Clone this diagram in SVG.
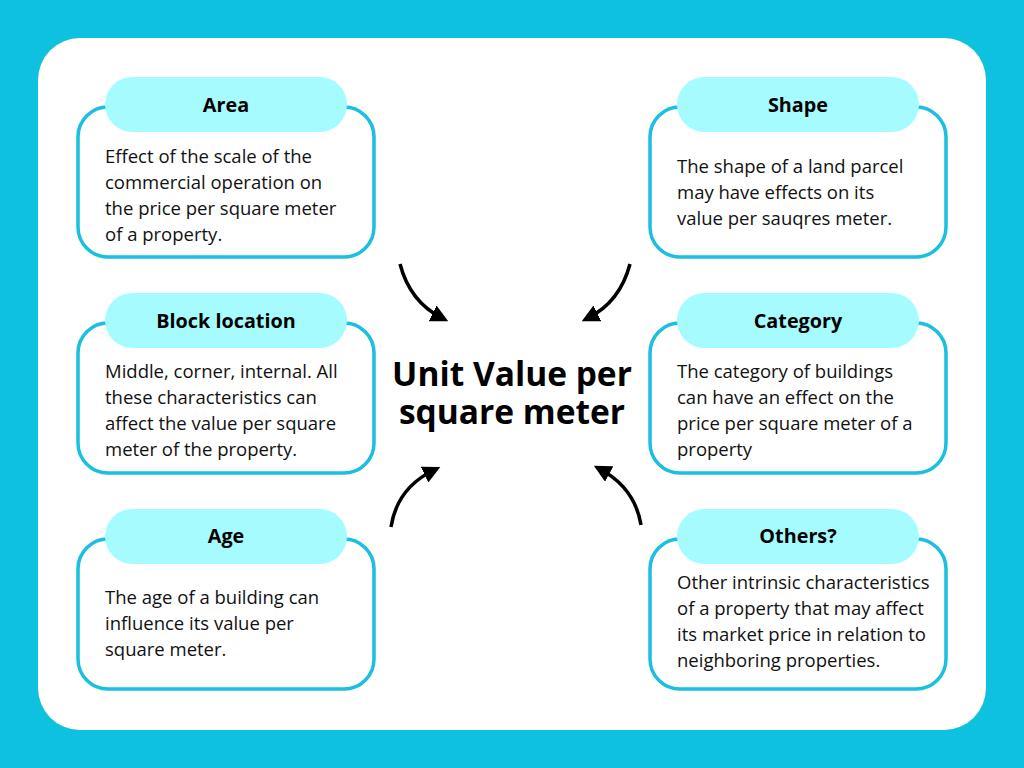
<svg xmlns="http://www.w3.org/2000/svg" width="1024" height="768" viewBox="0 0 1024 768">
<defs>
<style>
.box{fill:#fff;stroke:#1BBFE0;stroke-width:3.5}
.pill{fill:#A6FBFF}
.h{font-family:"Open Sans","Noto Sans",sans-serif;font-weight:bold;font-size:19.8px;fill:#000;text-anchor:middle}
.t{font-family:"Open Sans","Noto Sans",sans-serif;font-size:18.5px;fill:#111}
.c{font-family:"Open Sans","Noto Sans",sans-serif;font-weight:bold;font-size:33.5px;fill:#000;text-anchor:middle}
.arr{fill:none;stroke:#000;stroke-width:3.5;marker-end:url(#ah)}
</style>
<marker id="ah" viewBox="0 0 10 10" refX="6" refY="5" markerWidth="5" markerHeight="5" orient="auto" markerUnits="strokeWidth">
<path d="M0,0 L10,5 L0,10 z" fill="#000"/>
</marker>
</defs>
<rect width="1024" height="768" fill="#0FC1E1"/>
<rect x="38" y="38" width="948" height="692" rx="42" fill="#fff"/>

<g id="area">
<rect class="box" x="78" y="107" width="296" height="150" rx="30"/>
<rect class="pill" x="105" y="77" width="242" height="55" rx="27.5"/>
<text class="h" x="226" y="112">Area</text>
<text class="t" x="105" y="163">Effect of the scale of the</text>
<text class="t" x="105" y="189">commercial operation on</text>
<text class="t" x="105" y="215">the price per square meter</text>
<text class="t" x="105" y="241">of a property.</text>
</g>

<g id="block-location">
<rect class="box" x="78" y="323" width="296" height="150" rx="30"/>
<rect class="pill" x="105" y="293" width="242" height="55" rx="27.5"/>
<text class="h" x="226" y="328">Block location</text>
<text class="t" x="105" y="378">Middle, corner, internal. All</text>
<text class="t" x="105" y="404">these characteristics can</text>
<text class="t" x="105" y="430">affect the value per square</text>
<text class="t" x="105" y="456">meter of the property.</text>
</g>

<g id="age">
<rect class="box" x="78" y="539" width="296" height="150" rx="30"/>
<rect class="pill" x="105" y="509" width="242" height="55" rx="27.5"/>
<text class="h" x="226" y="543">Age</text>
<text class="t" x="105" y="604">The age of a building can</text>
<text class="t" x="105" y="630">influence its value per</text>
<text class="t" x="105" y="656">square meter.</text>
</g>

<g id="shape">
<rect class="box" x="650" y="107" width="296" height="150" rx="30"/>
<rect class="pill" x="677" y="77" width="242" height="55" rx="27.5"/>
<text class="h" x="798" y="112">Shape</text>
<text class="t" x="677" y="173">The shape of a land parcel</text>
<text class="t" x="677" y="199">may have effects on its</text>
<text class="t" x="677" y="225">value per sauqres meter.</text>
</g>

<g id="category">
<rect class="box" x="650" y="323" width="296" height="150" rx="30"/>
<rect class="pill" x="677" y="293" width="242" height="55" rx="27.5"/>
<text class="h" x="798" y="328">Category</text>
<text class="t" x="677" y="378">The category of buildings</text>
<text class="t" x="677" y="404">can have an effect on the</text>
<text class="t" x="677" y="430">price per square meter of a</text>
<text class="t" x="677" y="456">property</text>
</g>

<g id="others">
<rect class="box" x="650" y="539" width="296" height="150" rx="30"/>
<rect class="pill" x="677" y="509" width="242" height="55" rx="27.5"/>
<text class="h" x="798" y="543">Others?</text>
<text class="t" x="677" y="589">Other intrinsic characteristics</text>
<text class="t" x="677" y="615">of a property that may affect</text>
<text class="t" x="677" y="641">its market price in relation to</text>
<text class="t" x="677" y="667">neighboring properties.</text>
</g>

<g id="center">
<text class="c" x="512" y="386">Unit Value per</text>
<text class="c" x="512" y="424">square meter</text>
</g>

<g id="connectors">
<path class="arr" d="M400,264 Q410,302 442,318"/>
<path class="arr" d="M630,264 Q620,302 588,318"/>
<path class="arr" d="M391,527 Q397,488 434,470"/>
<path class="arr" d="M641,525 Q635,488 600,469"/>
</g>
</svg>
